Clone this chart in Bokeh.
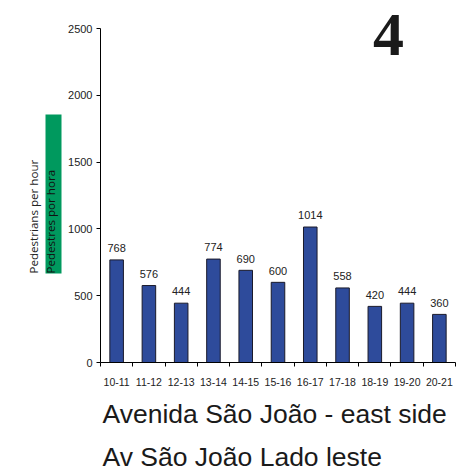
import math
from bokeh.plotting import figure
from bokeh.layouts import row, column
from bokeh.models import ColumnDataSource, Range1d, FixedTicker
from bokeh.embed import file_html
from bokeh.resources import INLINE
from bokeh.core.properties import value

# ---- data ----
hours = ["10-11", "11-12", "12-13", "13-14", "14-15", "15-16",
         "16-17", "17-18", "18-19", "19-20", "20-21"]
pedestrians = [768, 576, 444, 774, 690, 600, 1014, 558, 420, 444, 360]
y_ticks = [0, 500, 1000, 1500, 2000, 2500]
title_en = "Avenida São João - east side"
title_pt = "Av São João Lado leste"
ylabel_en = "Pedestrians per hour"
ylabel_pt = "Pedestres por hora"
chart_number = "4"

n = len(hours)
y_max = y_ticks[-1]
centers = [i + 0.5 for i in range(n)]
src = ColumnDataSource(dict(x=centers, top=pedestrians,
                            ty=[v + 88 for v in pedestrians],
                            lbl=[str(v) for v in pedestrians]))

AXIS_PX = 334               # pixel height of the 0..2500 axis
FH, BOT = 362, 38           # frame reaches the top of the canvas
UPP = y_max / AXIS_PX       # data units per pixel
SHIFT = 0.36                # baseline correction (em) for svg text


def blank(w, fh, bot=0):
    f = figure(frame_width=w, frame_height=fh,
               x_range=Range1d(0, w), y_range=Range1d(0, fh),
               x_axis_type=None, y_axis_type=None,
               min_border_left=0, min_border_right=0,
               min_border_top=0, min_border_bottom=bot,
               output_backend="svg", toolbar_location=None)
    f.outline_line_color = None
    f.xgrid.visible = False
    f.ygrid.visible = False
    return f


# ---- main chart ----
p = figure(frame_width=355, frame_height=FH,
           min_border_left=36, min_border_right=13,
           min_border_top=0, min_border_bottom=BOT,
           x_range=Range1d(0, n), y_range=Range1d(0, FH * UPP),
           output_backend="svg", toolbar_location=None)
p.outline_line_color = None
p.xgrid.visible = False
p.ygrid.visible = False

p.vbar(x="x", top="top", bottom=0, width=0.42, source=src,
       fill_color="#2E4B9B", line_color="#1a1a2a", line_width=1)
p.text(x="x", y="ty", text="lbl", source=src, text_align="center",
       text_baseline="alphabetic", text_font=value("Liberation Sans"),
       text_font_size="11px", text_color="#222222")

ya = p.yaxis[0]
ya.ticker = FixedTicker(ticks=y_ticks)
ya.bounds = (0, y_max)
ya.minor_tick_line_color = None
ya.major_tick_in = 0
ya.major_tick_out = 4
ya.major_label_standoff = 4
ya.major_label_text_font = "Liberation Sans"
ya.major_label_text_font_size = "11px"
ya.major_label_text_color = "#222222"
ya.axis_line_color = "black"
ya.major_tick_line_color = "black"

xa = p.xaxis[0]
xa.ticker = FixedTicker(ticks=centers, minor_ticks=list(range(n + 1)))
xa.major_label_overrides = {c: h for c, h in zip(centers, hours)}
xa.major_tick_in = 0
xa.major_tick_out = 0
xa.minor_tick_in = 0
xa.minor_tick_out = 4
xa.minor_tick_line_color = "black"
xa.major_label_standoff = 11
xa.major_label_text_font = "Liberation Sans"
xa.major_label_text_font_size = "10.5px"
xa.major_label_text_color = "#222222"
xa.axis_line_color = "black"

# number "4" in the top right of the chart
num_size = 62
p.text(x=[(388 - 100) / (355 / n)],
       y=[(FH - (57 - SHIFT * num_size)) * UPP],
       text=[chart_number], text_align="center", text_baseline="alphabetic",
       text_font=value("Liberation Serif"), text_font_style="bold",
       text_font_size=f"{num_size}px", text_color="#1a1a1a")


# ---- left strip with the axis titles (frame aligned with main frame) ----
def ly(wy):
    return FH - wy


lab_size = 11.6
left = blank(64, FH, BOT)
left.quad(left=[45], right=[61], bottom=[ly(273)], top=[ly(114)],
          fill_color="#00995E", line_color=None)
left.text(x=[37 - SHIFT * lab_size], y=[ly(273)], text=[ylabel_en],
          angle=math.pi / 2, text_align="left", text_baseline="alphabetic",
          text_font=value("Open Sans"), text_font_size=f"{lab_size}px",
          text_color="#222222")
left.text(x=[54 - SHIFT * lab_size], y=[ly(273)], text=[ylabel_pt],
          angle=math.pi / 2, text_align="left", text_baseline="alphabetic",
          text_font=value("Open Sans"), text_font_size=f"{lab_size}px",
          text_color="#111111")

# ---- bottom strip with the titles ----
BH = 74
title_size = 26.5
bottom = blank(468, BH)
y0 = FH + BOT  # window y of the strip's top
bottom.text(x=[102, 102],
            y=[BH - (423 - SHIFT * title_size - y0),
               BH - (466 - SHIFT * title_size - y0)],
            text=[title_en, title_pt],
            text_align="left", text_baseline="alphabetic",
            text_font=value("Liberation Sans"),
            text_font_size=f"{title_size}px", text_color="#1a1a1a")

layout = column(row(left, p), bottom)
open("out.html", "w").write(file_html(layout, INLINE))
